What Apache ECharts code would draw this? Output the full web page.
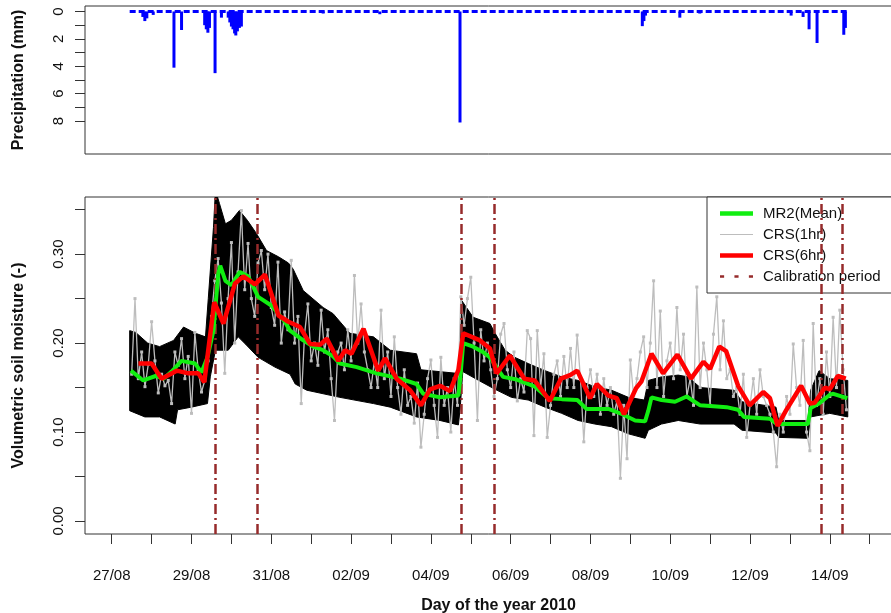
<!DOCTYPE html>
<html><head><meta charset="utf-8">
<script src="https://cdn.jsdelivr.net/npm/echarts@6/dist/echarts.min.js"></script>
<style>html,body{margin:0;padding:0;background:#fff}#c{width:891px;height:613px}</style>
</head><body><div id="c"></div>
<script>
// time is in days since 27/08/2010 00:00
const dayTicks = [0,1,2,3,4,5,6,7,8,9,10,11,12,13,14,15,16,17,18,19];
const labelDays = [0,2,4,6,8,10,12,14,16,18];
const labelTexts = ['27/08','29/08','31/08','02/09','04/09','06/09','08/09','10/09','12/09','14/09'];
const moistTicks = [0,0.05,0.10,0.15,0.20,0.25,0.30,0.35];
const moistLabels = [0,0.10,0.20,0.30];
const precipTicks = [0,1,2,3,4,5,6,7,8];
const precipLabels = [0,2,4,6,8];

// hourly precipitation (mm) [time, depth]
const precip = [[0.78,0.4],[0.83,0.7],[0.88,0.5],[1.04,0.25],[1.56,4.1],[1.75,1.35],[2.33,1.0],[2.37,1.3],[2.41,1.55],[2.45,1.2],[2.59,4.5],[2.75,0.45],[2.92,0.45],[2.96,0.8],[3.0,1.1],[3.04,1.3],[3.08,1.6],[3.11,1.75],[3.15,1.45],[3.2,1.2],[3.25,1.1],[5.30,0.15],[6.72,0.2],[8.73,8.1],[13.30,1.07],[13.34,0.7],[13.38,0.3],[14.24,0.45],[14.74,0.15],[17.03,0.3],[17.33,0.4],[17.48,1.3],[17.68,2.3],[18.35,1.7],[18.39,1.2]];
const precipSpan = [[0.45,0],[18.45,0]];

// MR2 sensors: envelope (upper / lower) and mean
const bandUpper = [[0.45,0.214],[0.6,0.212],[0.9,0.200],[1.2,0.196],[1.55,0.203],[1.8,0.218],[2.1,0.211],[2.35,0.207],[2.42,0.25],[2.55,0.33],[2.6,0.372],[2.7,0.357],[2.85,0.334],[3.0,0.338],[3.2,0.349],[3.4,0.338],[3.63,0.323],[3.88,0.304],[4.18,0.297],[4.43,0.290],[4.55,0.283],[4.80,0.259],[5.30,0.240],[5.55,0.233],[5.97,0.211],[6.56,0.207],[6.98,0.192],[7.64,0.188],[7.75,0.170],[8.65,0.166],[8.72,0.17],[8.77,0.248],[9.06,0.229],[9.48,0.222],[9.61,0.211],[9.86,0.192],[10.1,0.184],[10.44,0.177],[10.86,0.169],[11.28,0.162],[11.69,0.158],[12.11,0.151],[12.53,0.147],[12.95,0.139],[13.35,0.136],[13.45,0.158],[13.78,0.162],[14.20,0.164],[14.45,0.162],[14.75,0.150],[15.6,0.147],[15.8,0.134],[16.65,0.128],[16.72,0.113],[17.45,0.113],[17.52,0.147],[17.73,0.169],[18.0,0.160],[18.45,0.158]];
const bandLower = [[0.45,0.124],[0.83,0.117],[1.2,0.117],[1.59,0.109],[1.65,0.125],[2.0,0.128],[2.4,0.132],[2.47,0.162],[2.6,0.192],[2.92,0.192],[3.17,0.207],[3.35,0.199],[3.67,0.184],[4.09,0.173],[4.47,0.165],[4.6,0.154],[4.89,0.147],[5.72,0.139],[6.56,0.132],[6.98,0.128],[7.64,0.117],[8.23,0.113],[8.69,0.108],[8.74,0.13],[8.8,0.168],[9.2,0.158],[9.61,0.148],[10.02,0.139],[10.44,0.136],[10.86,0.128],[11.28,0.121],[11.69,0.113],[12.11,0.109],[12.53,0.106],[12.95,0.098],[13.37,0.093],[13.45,0.102],[13.78,0.109],[14.20,0.113],[14.75,0.109],[15.6,0.109],[15.8,0.102],[16.65,0.099],[16.72,0.094],[17.45,0.093],[17.52,0.117],[18.0,0.121],[18.45,0.117]];
const mr2Mean = [[0.48,0.169],[0.79,0.158],[1.1,0.163],[1.3,0.160],[1.5,0.168],[1.75,0.180],[2.09,0.177],[2.25,0.167],[2.40,0.184],[2.55,0.214],[2.67,0.278],[2.72,0.287],[2.85,0.270],[3.0,0.265],[3.21,0.280],[3.42,0.275],[3.67,0.252],[4.01,0.242],[4.34,0.224],[4.47,0.214],[4.80,0.203],[5.05,0.196],[5.30,0.192],[5.55,0.185],[5.72,0.177],[6.14,0.173],[6.64,0.166],[7.23,0.160],[7.64,0.154],[7.81,0.143],[8.23,0.139],[8.69,0.141],[8.74,0.162],[8.81,0.200],[9.06,0.196],[9.30,0.190],[9.48,0.184],[9.81,0.162],[10.15,0.159],[10.61,0.151],[10.94,0.138],[11.28,0.137],[11.67,0.136],[11.90,0.126],[12.45,0.126],[12.80,0.120],[13.12,0.113],[13.37,0.112],[13.45,0.124],[13.53,0.139],[13.78,0.136],[14.12,0.134],[14.41,0.140],[14.75,0.130],[15.41,0.128],[15.70,0.125],[15.85,0.117],[16.50,0.115],[16.67,0.109],[17.45,0.109],[17.52,0.127],[17.73,0.132],[18.0,0.142],[18.09,0.143],[18.44,0.138]];

// CRS 6-hourly
const crs6 = [[0.67,0.177],[1.0,0.177],[1.25,0.160],[1.63,0.169],[1.92,0.166],[2.17,0.166],[2.32,0.156],[2.57,0.246],[2.80,0.222],[3.09,0.267],[3.30,0.275],[3.59,0.266],[3.84,0.277],[4.18,0.231],[4.43,0.224],[4.72,0.218],[4.97,0.199],[5.22,0.198],[5.39,0.205],[5.68,0.180],[5.85,0.192],[6.01,0.188],[6.31,0.216],[6.68,0.169],[6.85,0.183],[7.14,0.160],[7.48,0.147],[7.75,0.130],[7.98,0.148],[8.23,0.152],[8.48,0.146],[8.69,0.170],[8.81,0.211],[9.23,0.203],[9.48,0.194],[9.65,0.166],[9.98,0.186],[10.34,0.160],[10.60,0.158],[10.98,0.135],[11.26,0.160],[11.49,0.164],[11.67,0.169],[11.99,0.138],[12.16,0.154],[12.45,0.141],[12.66,0.138],[12.84,0.120],[13.14,0.149],[13.28,0.157],[13.53,0.188],[13.82,0.166],[14.18,0.187],[14.52,0.160],[14.83,0.179],[15.0,0.171],[15.23,0.196],[15.40,0.191],[15.70,0.152],[15.99,0.130],[16.33,0.145],[16.50,0.138],[16.69,0.107],[16.90,0.124],[17.28,0.152],[17.50,0.132],[17.62,0.133],[17.88,0.150],[18.0,0.148],[18.20,0.163],[18.40,0.160]];

// CRS 1-hourly (sampled every 2 h from 27/08 12:00)
const crs1Start = 0.5, crs1Step = 1/12;
const crs1 = [
0.165,0.250,0.160,0.190,0.151,0.176,0.224,0.180,0.144,0.165,0.152,0.158,
0.132,0.190,0.175,0.205,0.160,0.185,0.121,0.212,0.170,0.145,0.158,0.180,
0.230,0.270,0.295,0.245,0.166,0.250,0.313,0.200,0.280,0.349,0.260,0.312,
0.250,0.230,0.290,0.304,0.260,0.300,0.240,0.220,0.291,0.200,0.235,0.215,
0.293,0.200,0.230,0.132,0.210,0.244,0.180,0.200,0.175,0.237,0.190,0.215,
0.160,0.113,0.190,0.200,0.170,0.215,0.180,0.276,0.200,0.244,0.190,0.170,
0.150,0.180,0.150,0.237,0.160,0.190,0.140,0.207,0.150,0.120,0.170,0.130,
0.140,0.110,0.155,0.083,0.120,0.160,0.181,0.130,0.094,0.184,0.130,0.150,
0.100,0.160,0.130,0.252,0.220,0.250,0.274,0.200,0.113,0.215,0.180,0.200,
0.170,0.140,0.160,0.210,0.222,0.170,0.150,0.190,0.135,0.160,0.145,0.214,
0.205,0.096,0.214,0.150,0.188,0.094,0.130,0.165,0.180,0.140,0.185,0.150,
0.194,0.150,0.209,0.160,0.089,0.150,0.170,0.140,0.165,0.120,0.160,0.130,
0.150,0.120,0.135,0.048,0.130,0.070,0.181,0.140,0.160,0.190,0.207,0.150,
0.200,0.270,0.150,0.236,0.140,0.180,0.200,0.160,0.240,0.170,0.210,0.140,
0.160,0.130,0.263,0.150,0.200,0.170,0.130,0.210,0.252,0.170,0.225,0.160,
0.170,0.140,0.150,0.120,0.165,0.094,0.130,0.160,0.120,0.170,0.140,0.130,
0.120,0.100,0.061,0.120,0.100,0.140,0.120,0.199,0.150,0.130,0.203,0.100,
0.079,0.222,0.130,0.160,0.120,0.190,0.140,0.229,0.150,0.237,0.170,0.125];

// calibration period boundaries
const calib = [2.60,3.64,8.77,9.58,17.78,18.32];

const FONT = 'Liberation Sans';
const xMin = -0.67, xMax = 20.06;
const chart = echarts.init(document.getElementById('c'), null, {renderer:'canvas'});
const crs1Data = crs1.map((v,i)=>[crs1Start + i*crs1Step, v]);
const calColor = '#962b2b';

chart.setOption({
  animation:false,
  textStyle:{fontFamily:FONT},
  grid:[
    {left:85, top:6, height:148, width:827, outerBoundsMode:'none', containLabel:false, show:true, borderColor:'#333', borderWidth:1, backgroundColor:'transparent'},
    {left:85, top:197, height:337, width:827, outerBoundsMode:'none', containLabel:false, show:true, borderColor:'#333', borderWidth:1, backgroundColor:'transparent'}
  ],
  xAxis:[
    {gridIndex:0, type:'value', min:xMin, max:xMax, axisLine:{show:false, onZero:false}, axisTick:{show:false}, axisLabel:{show:false}, splitLine:{show:false}},
    {gridIndex:1, type:'value', min:xMin, max:xMax, position:'bottom', axisLine:{show:false, onZero:false}, splitLine:{show:false},
     axisTick:{show:true, customValues:dayTicks, length:10, lineStyle:{color:'#333', width:1}},
     axisLabel:{customValues:labelDays, margin:34, fontSize:15, color:'#111', fontFamily:FONT,
       formatter:v=>labelTexts[labelDays.indexOf(Math.round(v))]},
     name:'Day of the year 2010', nameLocation:'middle', nameGap:64,
     nameTextStyle:{fontWeight:'bold', fontSize:16, color:'#111', fontFamily:FONT}}
  ],
  yAxis:[
    {gridIndex:0, type:'value', inverse:true, min:-0.4, max:10.4, position:'left', splitLine:{show:false}, axisLine:{show:false, onZero:false},
     axisTick:{show:true, customValues:precipTicks, length:10, lineStyle:{color:'#333'}},
     axisLabel:{customValues:precipLabels, rotate:90, margin:19, fontSize:15, color:'#111', fontFamily:FONT},
     name:'Precipitation (mm)', nameLocation:'middle', nameGap:58,
     nameTextStyle:{fontWeight:'bold', fontSize:16, color:'#111', fontFamily:FONT}},
    {gridIndex:1, type:'value', min:-0.0146, max:0.3642, position:'left', splitLine:{show:false}, axisLine:{show:false, onZero:false},
     axisTick:{show:true, customValues:moistTicks, length:10, lineStyle:{color:'#333'}},
     axisLabel:{customValues:moistLabels, rotate:90, margin:19, fontSize:15, color:'#111', fontFamily:FONT,
       formatter:v=>v.toFixed(2)},
     name:'Volumetric soil moisture (-)', nameLocation:'middle', nameGap:58,
     nameTextStyle:{fontWeight:'bold', fontSize:16, color:'#111', fontFamily:FONT}}
  ],
  legend:{
    left:707, top:197, orient:'vertical', backgroundColor:'#fff', borderColor:'#333', borderWidth:1,
    padding:[9,30,9,13], itemWidth:33, itemHeight:14, itemGap:6,
    textStyle:{fontSize:15, color:'#111', fontFamily:FONT, padding:[0,0,0,5]},
    data:[
      {name:'MR2(Mean)', icon:'path://M0,0H33V4.5H0Z'},
      {name:'CRS(1hr)', icon:'path://M0,0H33V1.2H0Z'},
      {name:'CRS(6hr)', icon:'path://M0,0H33V4.5H0Z'},
      {name:'Calibration period', icon:'path://M0,0H4V2.5H0Z M14,0H18V2.5H14Z M28,0H32V2.5H28Z'}
    ]
  },
  series:[
    {name:'Precipitation', type:'bar', xAxisIndex:0, yAxisIndex:0, data:precip, barWidth:3, itemStyle:{color:'#0000ff'}, z:3},
    {name:'PrecipBase', type:'line', xAxisIndex:0, yAxisIndex:0, data:precipSpan, symbol:'none', lineStyle:{color:'#0000ff', width:3, type:[6,3]}, z:2},
    {name:'MR2 range', type:'custom', xAxisIndex:1, yAxisIndex:1, data:[[0,0]], clip:true, z:1,
     renderItem:(params, api)=>{
       const pts = bandUpper.map(p=>api.coord(p));
       for (let i=bandLower.length-1;i>=0;i--) pts.push(api.coord(bandLower[i]));
       return {type:'polygon', shape:{points:pts}, style:{fill:'#000', stroke:'#000', lineWidth:1}};
     }},
    {name:'CRS(1hr)', type:'line', xAxisIndex:1, yAxisIndex:1, data:crs1Data, color:'#bdbdbd',
     symbol:'rect', symbolSize:3, showSymbol:true, itemStyle:{color:'#bdbdbd'}, lineStyle:{color:'#bdbdbd', width:1.3}, z:3},
    {name:'Calibration period', type:'line', xAxisIndex:1, yAxisIndex:1, data:[], color:calColor, itemStyle:{color:calColor}, z:4,
     markLine:{silent:true, symbol:['none','none'], label:{show:false},
       lineStyle:{color:calColor, width:2.5, type:[10,4,2,4]},
       data:calib.map(t=>({xAxis:t}))}},
    {name:'MR2(Mean)', type:'line', xAxisIndex:1, yAxisIndex:1, data:mr2Mean, color:'#11ee11', symbol:'none',
     itemStyle:{color:'#11ee11'}, lineStyle:{color:'#11ee11', width:4}, z:5},
    {name:'CRS(6hr)', type:'line', xAxisIndex:1, yAxisIndex:1, data:crs6, color:'#ff0000', symbol:'none',
     itemStyle:{color:'#ff0000'}, lineStyle:{color:'#ff0000', width:4.5}, z:6}
  ]
});
</script></body></html>
